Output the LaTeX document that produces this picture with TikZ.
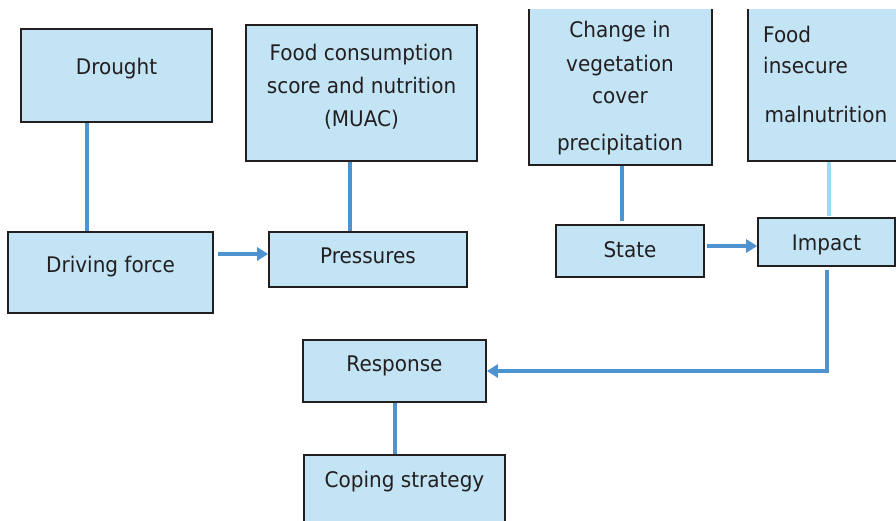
\documentclass[tikz,border=0pt]{standalone}
\usepackage{fontspec}
\setmainfont[FakeStretch=0.93]{DejaVu Sans}
\usetikzlibrary{arrows.meta}
\definecolor{boxfill}{HTML}{C3E4F5}
\definecolor{boxline}{HTML}{231F20}
\definecolor{conn}{HTML}{4E93D0}
\definecolor{connlight}{HTML}{9DD8F5}
\definecolor{txtcol}{HTML}{231F20}
\tikzset{
  box/.style={draw=boxline, fill=boxfill, line width=1.7pt, inner sep=0pt, rectangle},
  lbl/.style={anchor=base, inner sep=0pt, text=txtcol, font=\fontsize{21.5}{26}\selectfont},
  lbll/.style={lbl, anchor=base west},
  conline/.style={draw=conn, line width=4pt},
  conarrow/.style={conline, -{Triangle[length=11pt,width=13pt]}},
}
\begin{document}
\begin{tikzpicture}[x=1pt,y=-1pt]
\useasboundingbox (0,0) rectangle (896,520);
\clip (0,0) rectangle (896,520);
% boxes
\node[box, minimum width=191, minimum height=93] (drought) at (116.5,75.5) {};
\node[box, minimum width=231, minimum height=136] (food) at (361.5,93) {};
\node[box, minimum width=205, minimum height=81] (driving) at (110.5,272.5) {};
\node[box, minimum width=198, minimum height=55] (pressures) at (368,259.5) {};
\node[box, minimum width=148, minimum height=52] (state) at (630,251) {};
\node[box, minimum width=137, minimum height=48] (impact) at (826.5,242) {};
\node[box, minimum width=183, minimum height=62] (response) at (394.5,371) {};
\node[box, minimum width=201, minimum height=90] (coping) at (404.5,500) {};
\begin{scope}
\clip (0,9) rectangle (896,520);
\node[box, minimum width=183, minimum height=195] (veg) at (620.5,67.5) {};
\node[box, minimum width=170, minimum height=191] (insecure) at (833,65.5) {};
\end{scope}
% labels
\node[lbl] (tdrought) at (116.5,74) {Drought};
\node[lbl] (tfood1) at (361.5,60) {Food consumption};
\node[lbl] (tfood2) at (361.5,93) {score and nutrition};
\node[lbl] (tfood3) at (361.5,126) {(MUAC)};
\node[lbl] (tveg1) at (620,37) {Change in};
\node[lbl] (tveg2) at (620,71) {vegetation};
\node[lbl] (tveg3) at (620,103) {cover};
\node[lbl] (tveg4) at (620,150) {precipitation};
\node[lbll] (tins1) at (763,42) {Food};
\node[lbll] (tins2) at (763,73) {insecure};
\node[lbll] (tins3) at (764.5,122) {malnutrition};
\node[lbl] (tdriving) at (110.5,272) {Driving force};
\node[lbl] (tpressures) at (368,263) {Pressures};
\node[lbl] (tstate) at (630,257) {State};
\node[lbl] (timpact) at (826.5,250) {Impact};
\node[lbl] (tresponse) at (394.5,371) {Response};
\node[lbl] (tcoping) at (404.5,487) {Coping strategy};
% connectors
\draw[conline] (drought.south -| 87,0) -- (driving.north -| 87,0);
\draw[conline] (food.south -| 350,0) -- (pressures.north -| 350,0);
\draw[conline, shorten >=3pt] (veg.south -| 622,0) -- (state.north -| 622,0);
\draw[conline, draw=connlight, shorten >=1.5pt] (insecure.south -| 829,0) -- (impact.north -| 829,0);
\draw[conarrow, shorten <=4pt] (driving.east |- 0,254) -- (pressures.west |- 0,254);
\draw[conarrow, shorten <=2pt] (state.east |- 0,246) -- (impact.west |- 0,246);
\draw[conarrow, shorten <=3pt] (impact.south) |- (response.east);
\draw[conline] (response.south) -- (coping.north -| response.south);
\end{tikzpicture}
\end{document}
